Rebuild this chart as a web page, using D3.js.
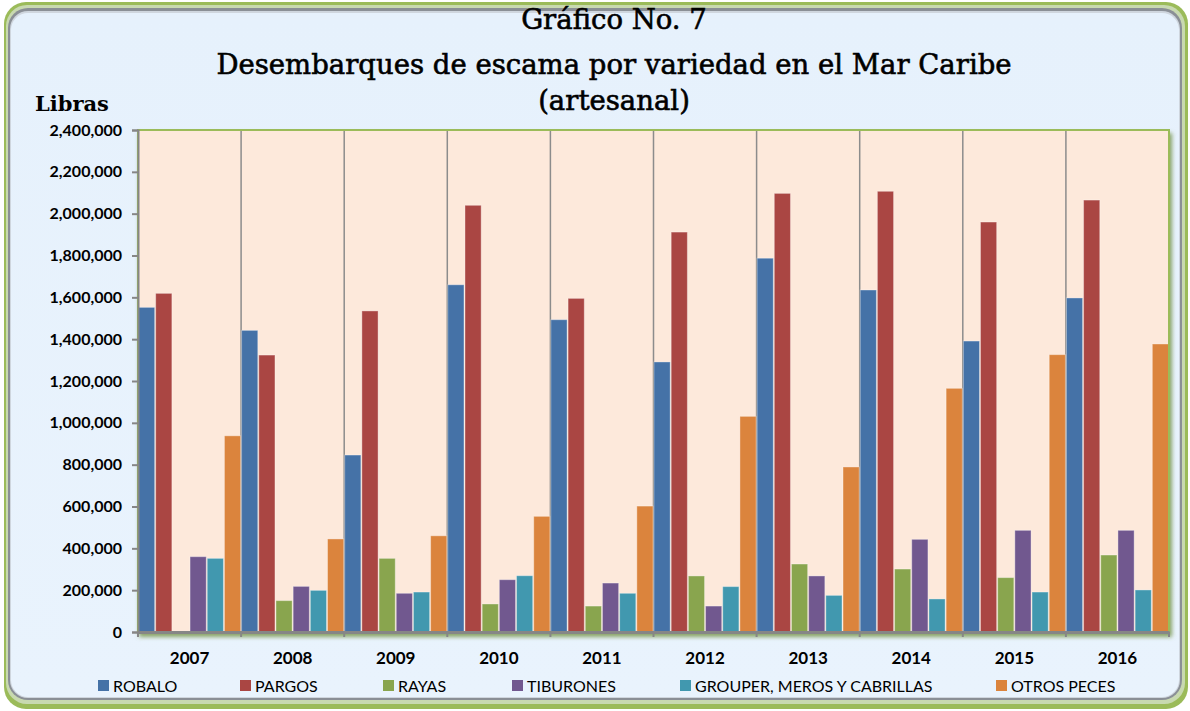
<!DOCTYPE html>
<html>
<head>
<meta charset="utf-8">
<script src="https://cdn.jsdelivr.net/npm/d3@7"></script>
<style>
html,body{margin:0;padding:0;background:#ffffff;}
svg{display:block;}
</style>
</head>
<body>
<svg id="chart" width="1190" height="711"></svg>
<script>
// ---- data ----
const years = ["2007","2008","2009","2010","2011","2012","2013","2014","2015","2016"];
const seriesNames = ["ROBALO","PARGOS","RAYAS","TIBURONES","GROUPER, MEROS Y CABRILLAS","OTROS PECES"];
const robalo    = [1552000,1442000, 846000,1660000,1493000,1291000,1787000,1635000,1391000,1597000];
const pargos    = [1619000,1324000,1535000,2040000,1595000,1912000,2097000,2107000,1960000,2065000];
const rayas     = [   3000, 150000, 352000, 134000, 124000, 268000, 325000, 301000, 260000, 368000];
const tiburones = [ 360000, 218000, 185000, 250000, 234000, 124000, 268000, 443000, 486000, 486000];
const grouper   = [ 352000, 199000, 191000, 269000, 185000, 217000, 175000, 158000, 191000, 201000];
const otros     = [ 938000, 445000, 460000, 553000, 602000,1031000, 789000,1165000,1326000,1377000];
const yTicks = [0,200000,400000,600000,800000,1000000,1200000,1400000,1600000,1800000,2000000,2200000,2400000];
const titleLines = ["Gráfico No. 7","Desembarques de escama por variedad en el Mar Caribe","(artesanal)"];
const yAxisTitle = "Libras";

const seriesValues = [robalo, pargos, rayas, tiburones, grouper, otros];
const colors = ["#4572a7","#aa4643","#89a54e","#71588f","#4198af","#db843d"];

const svg = d3.select("#chart");
const W = 1190, H = 711;

// ---- frame ----
const defs = svg.append("defs");
const bev = defs.append("linearGradient").attr("id","bgGrad").attr("x1",0).attr("y1",0).attr("x2",0).attr("y2",1);
bev.append("stop").attr("offset","0%").attr("stop-color","#e6f1fc");
bev.append("stop").attr("offset","100%").attr("stop-color","#e9f3fd");
const shadow = defs.append("filter").attr("id","plotShadow").attr("x","-5%").attr("y","-5%").attr("width","110%").attr("height","115%");
shadow.append("feDropShadow").attr("dx",2).attr("dy",4).attr("stdDeviation",2).attr("flood-color","#6f8f3f").attr("flood-opacity",0.8);

svg.append("rect").attr("x",0).attr("y",0).attr("width",W).attr("height",H).attr("fill","#ffffff");
// outer green frame
svg.append("rect").attr("x",4).attr("y",2).attr("width",W-6).attr("height",H-4)
  .attr("rx",22).attr("fill","#9bbb59");
svg.append("rect").attr("x",6).attr("y",5).attr("width",W-11).attr("height",H-12)
  .attr("rx",21).attr("fill","#c8d9b0");
// gray bevel
svg.append("rect").attr("x",8).attr("y",8).attr("width",W-16).attr("height",H-19)
  .attr("rx",20).attr("fill","#8a8f96");
svg.append("rect").attr("x",10).attr("y",11).attr("width",W-20).attr("height",H-24)
  .attr("rx",18).attr("fill","#cfd6de");
svg.append("rect").attr("x",11).attr("y",13).attr("width",W-22).attr("height",H-27)
  .attr("rx",17).attr("fill","url(#bgGrad)");

// ---- scales ----
const plot = {x0:138, x1:1169, y0:130, y1:632};
const x = d3.scaleBand().domain(years).range([plot.x0, plot.x1]).paddingInner(0).paddingOuter(0);
const xs = d3.scaleBand().domain(seriesNames).range([0, x.bandwidth()]).padding(0);
const y = d3.scaleLinear().domain([0,2400000]).range([plot.y1, plot.y0]);

// plot area
svg.append("rect").attr("x",plot.x0).attr("y",plot.y0).attr("width",plot.x1-plot.x0).attr("height",plot.y1-plot.y0)
  .attr("fill","#fde9d9").attr("stroke","#9bbb59").attr("stroke-width",2).attr("filter","url(#plotShadow)");
svg.append("rect").attr("x",plot.x0).attr("y",plot.y0).attr("width",plot.x1-plot.x0).attr("height",plot.y1-plot.y0)
  .attr("fill","#fde9db");

// vertical grid lines at category boundaries
const bounds = years.slice(1).map(d => x(d));
svg.append("g").selectAll("line").data(bounds).join("line")
  .attr("x1",d=>d).attr("x2",d=>d).attr("y1",plot.y0).attr("y2",plot.y1)
  .attr("stroke","#8c8c8c").attr("stroke-width",1.5);

// bars
const groups = svg.append("g").selectAll("g").data(years).join("g")
  .attr("transform", d => `translate(${x(d)},0)`);
groups.selectAll("rect").data((yr,i) => seriesNames.map((s,j) => ({s, v: seriesValues[j][i], c: colors[j]})))
  .join("rect")
  .attr("x", d => xs(d.s)+0.5)
  .attr("width", xs.bandwidth()-1)
  .attr("y", d => y(d.v))
  .attr("height", d => y(0)-y(d.v))
  .attr("fill", d => d.c)
  .attr("stroke", "rgba(255,255,255,0.35)")
  .attr("stroke-width", 1);

// plot border left/top/right
svg.append("path").attr("d",`M${plot.x0},${plot.y1}V${plot.y0}H${plot.x1}V${plot.y1}`)
  .attr("fill","none").attr("stroke","#9bbb59").attr("stroke-width",2);

// y axis
const yAxis = d3.axisLeft(y).tickValues(yTicks).tickSize(6).tickPadding(10)
  .tickFormat(d => d3.format(",")(d));
const gy = svg.append("g").attr("transform",`translate(${plot.x0},0)`).call(yAxis);
gy.select(".domain").attr("stroke","#868686").attr("stroke-width",2);
gy.selectAll(".tick line").attr("stroke","#868686").attr("stroke-width",2);
gy.selectAll(".tick text").attr("font-family","Lato, 'Open Sans', sans-serif").attr("font-weight","bold")
  .attr("font-size",16).attr("fill","#000");

// x axis
const gx = svg.append("g").attr("transform",`translate(0,${plot.y1})`)
  .call(d3.axisBottom(x).tickSize(0).tickPadding(20));
gx.select(".domain").attr("stroke","#868686").attr("stroke-width",3);
gx.selectAll(".tick text").attr("font-family","Lato, 'Open Sans', sans-serif").attr("font-weight","bold")
  .attr("font-size",17).attr("fill","#000");
// small tick marks at category boundaries below axis
svg.append("g").selectAll("line").data([plot.x0, ...bounds, plot.x1]).join("line")
  .attr("x1",d=>d).attr("x2",d=>d).attr("y1",plot.y1).attr("y2",plot.y1+5)
  .attr("stroke","#868686").attr("stroke-width",2);

// titles
const titleY = [29, 74, 110];
const titleFont = "'DejaVu Serif', 'Liberation Serif', serif";
titleLines.forEach((t,i) => {
  svg.append("text").attr("x", 614).attr("y", titleY[i]).attr("text-anchor","middle")
    .attr("font-family", titleFont).attr("font-size", 27.5).attr("fill","#000")
    .attr("stroke","#000").attr("stroke-width",0.6).text(t);
});
svg.append("text").attr("x",35).attr("y",111).attr("font-family",titleFont).attr("font-weight","bold")
  .attr("font-size",21).attr("fill","#000").text(yAxisTitle);

// legend
const legendX = [98, 240, 383, 512, 680, 996];
const lg = svg.append("g").selectAll("g").data(seriesNames).join("g")
  .attr("transform",(d,i)=>`translate(${legendX[i]},686)`);
lg.append("rect").attr("x",0).attr("y",-6).attr("width",11).attr("height",11).attr("fill",(d,i)=>colors[i]);
lg.append("text").attr("x",15).attr("y",0).attr("dy","0.35em")
  .attr("font-family","Lato, 'Open Sans', sans-serif").attr("font-size",16).attr("fill","#000").text(d=>d);
</script>
</body>
</html>
